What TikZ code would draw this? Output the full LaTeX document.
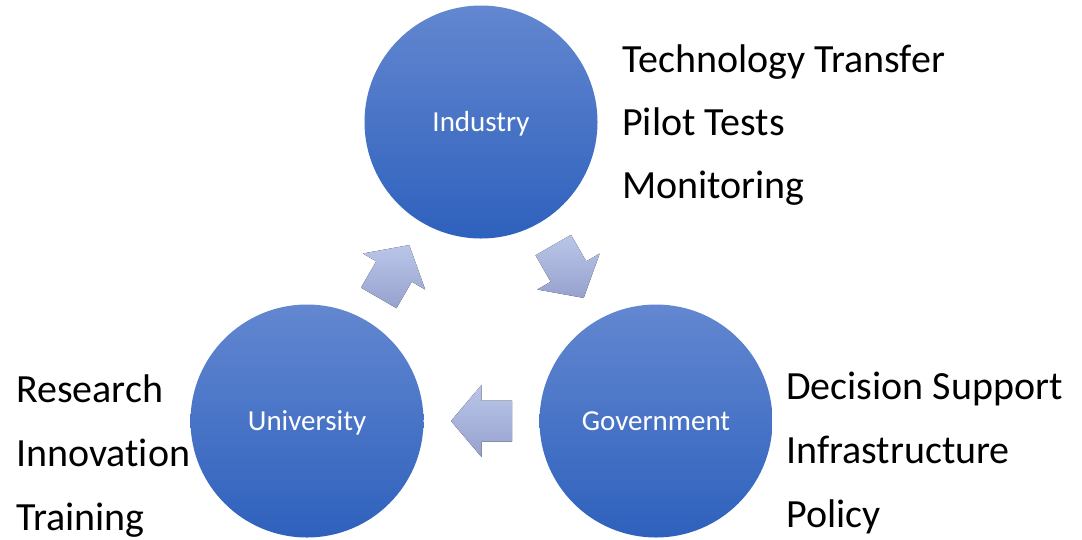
\documentclass[tikz,border=0pt]{standalone}
\usepackage{fontspec}
\setmainfont[Ligatures={NoCommon}]{Carlito}
\usetikzlibrary{calc}
\definecolor{ctop}{RGB}{99,135,208}
\definecolor{cbot}{RGB}{46,97,189}
\definecolor{atop}{RGB}{186,198,232}
\definecolor{abot}{RGB}{150,162,206}
\tikzset{
  hub/.style={circle, minimum size=233pt, inner sep=0pt, top color=ctop, bottom color=cbot,
    text=white, font=\fontsize{29}{31}\selectfont, text height=18.5pt, text depth=0pt},
  side/.style={anchor=base west, font=\fontsize{40}{44}\selectfont, inner sep=0pt, text=black},
  flow/.style={top color=atop, bottom color=abot}
}
\newcommand{\blockarrow}[2]{%
  \fill[flow] ([shift={#1},rotate=#2]-30.5,-20.5) -- ([shift={#1},rotate=#2]0,-20.5)
    -- ([shift={#1},rotate=#2]0,-36) -- ([shift={#1},rotate=#2]30.5,0)
    -- ([shift={#1},rotate=#2]0,36) -- ([shift={#1},rotate=#2]0,20.5)
    -- ([shift={#1},rotate=#2]-30.5,20.5) -- cycle;}
\begin{document}
\begin{tikzpicture}[x=1pt,y=-1pt]
\useasboundingbox (0,0) rectangle (1082,539);
\node[hub] (ind) at (481,122) {Industry};
\node[hub] (univ) at (307,421) {University};
\node[hub] (gov) at (656,421) {Government};
\coordinate (m1) at ($(univ.center)!0.5!(ind.center)$);
\coordinate (m2) at ($(ind.center)!0.5!(gov.center)$);
\coordinate (m3) at ($(gov.center)!0.5!(univ.center)$);
\blockarrow{(m1)}{60}
\blockarrow{(m2)}{-60}
\blockarrow{(m3)}{180}
\node[side] (t1) at (622,72) {Technology Transfer};
\node[side] (t2) at (622,135) {Pilot Tests};
\node[side] (t3) at (622,198) {Monitoring};
\node[side] (l1) at (16,402) {Research};
\node[side] (l2) at (16,466) {Innovation};
\node[side] (l3) at (16,530) {Training};
\node[side] (r1) at (786,399) {Decision Support};
\node[side] (r2) at (786,463) {Infrastructure};
\node[side] (r3) at (786,527) {Policy};
\end{tikzpicture}
\end{document}
